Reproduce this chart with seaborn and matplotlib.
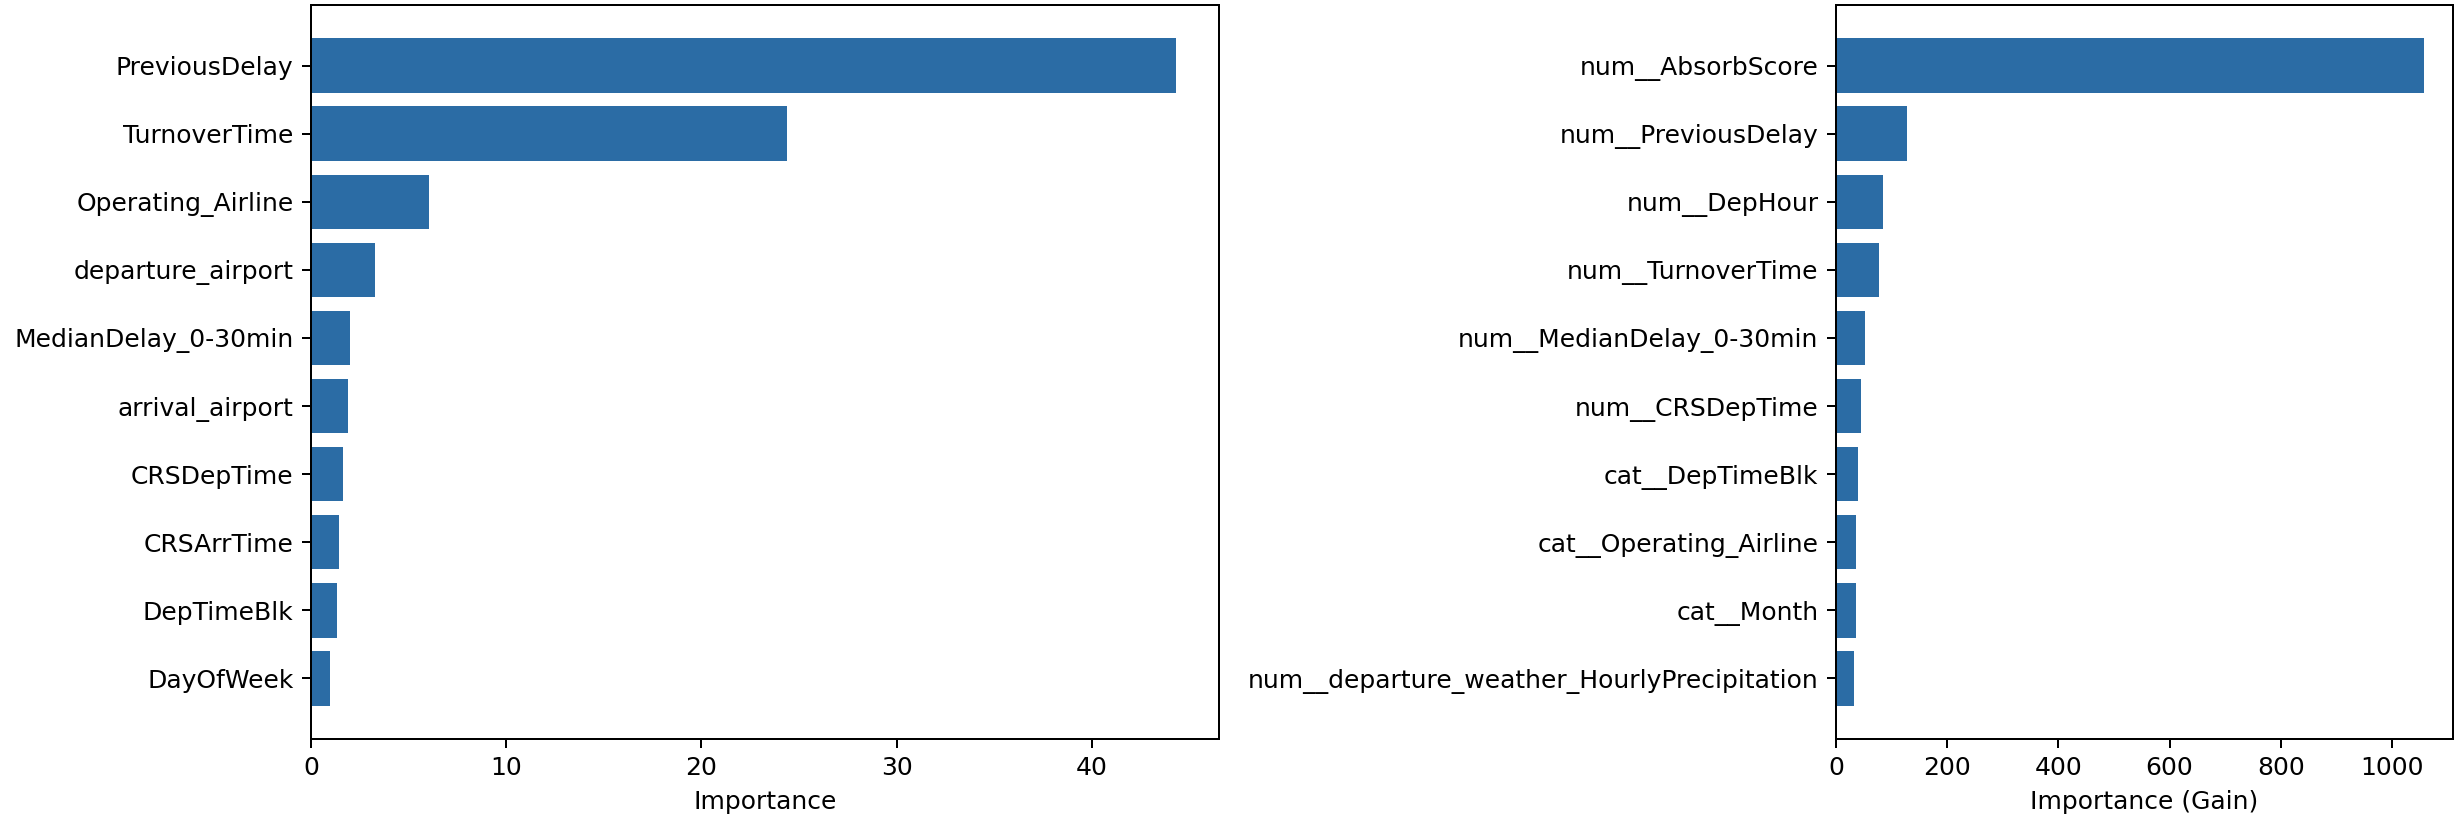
import pandas as pd
import matplotlib
matplotlib.use("Agg")
import matplotlib.pyplot as plt
import seaborn as sns

# feature importances (top to bottom)
rf_features = ['PreviousDelay', 'TurnoverTime', 'Operating_Airline', 'departure_airport',
               'MedianDelay_0-30min', 'arrival_airport', 'CRSDepTime', 'CRSArrTime',
               'DepTimeBlk', 'DayOfWeek']
rf_importance = [44.3, 24.4, 6.05, 3.27, 1.98, 1.89, 1.62, 1.44, 1.35, 0.96]

xgb_features = ['num__AbsorbScore', 'num__PreviousDelay', 'num__DepHour', 'num__TurnoverTime',
                'num__MedianDelay_0-30min', 'num__CRSDepTime', 'cat__DepTimeBlk',
                'cat__Operating_Airline', 'cat__Month',
                'num__departure_weather_HourlyPrecipitation']
xgb_gain = [1057, 127, 85, 78, 52, 46, 39, 36, 36, 33]

bar_color = "#2b6ca5"

plt.rcParams['font.family'] = ['DejaVu Sans']
plt.rcParams['font.size'] = 10

fig = plt.figure(figsize=(2460 / 180, 824 / 180), dpi=180)
ax1 = fig.add_axes([0.1264, 0.1032, 0.3691, 0.8907])
ax2 = fig.add_axes([0.7463, 0.1032, 0.2509, 0.8907])

df1 = pd.DataFrame({'feature': rf_features, 'importance': rf_importance})
df2 = pd.DataFrame({'feature': xgb_features, 'gain': xgb_gain})

sns.barplot(data=df1, x='importance', y='feature', order=rf_features, orient='h',
            color=bar_color, saturation=1, width=0.8, ax=ax1)
sns.barplot(data=df2, x='gain', y='feature', order=xgb_features, orient='h',
            color=bar_color, saturation=1, width=0.8, ax=ax2)

for ax, lab, n in [(ax1, 'Importance', len(rf_features)), (ax2, 'Importance (Gain)', len(xgb_features))]:
    # matplotlib-like 5% margins around the bars instead of seaborn's fixed limits
    pad = 0.4 + 0.05 * (n - 1 + 0.8)
    ax.set_ylim(n - 1 + pad, -pad)
    ax.set_xlabel(lab)
    ax.set_ylabel('')
    for s in ax.spines.values():
        s.set_visible(True)

fig.savefig('out.png', dpi=180)
